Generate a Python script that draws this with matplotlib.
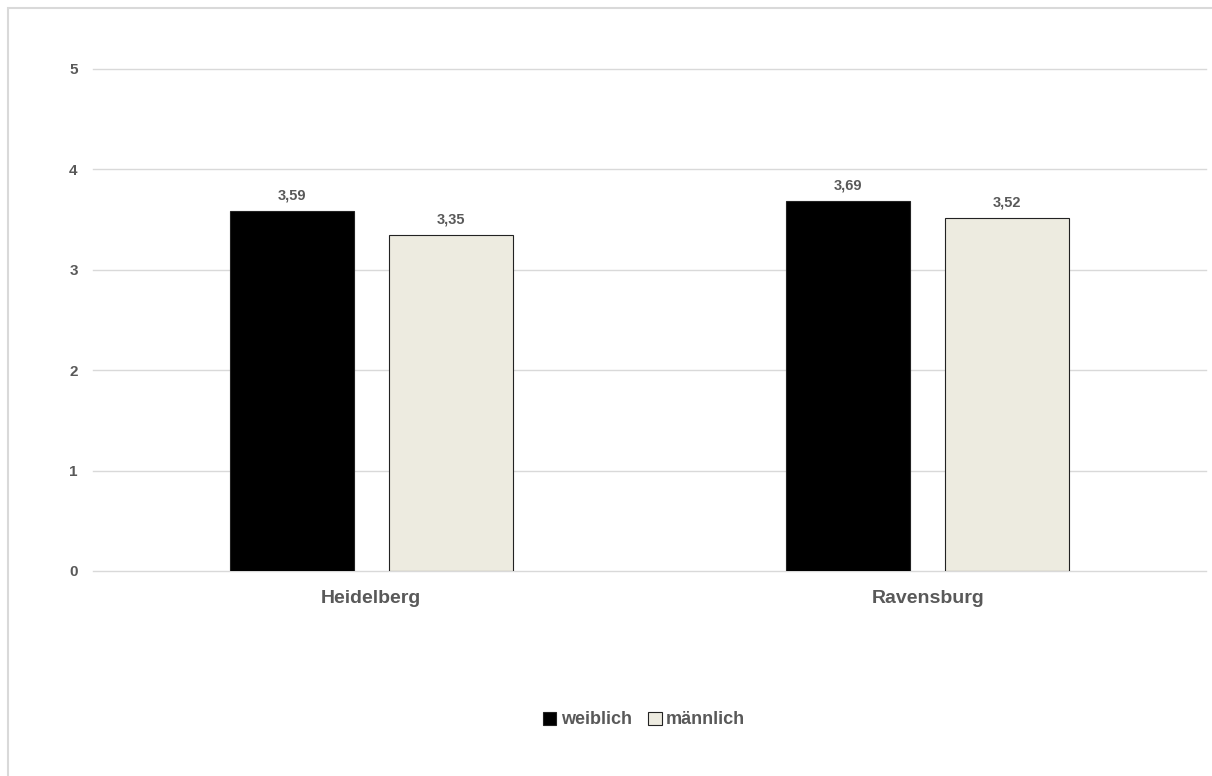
import numpy as np
import matplotlib
matplotlib.use("Agg")
import matplotlib.pyplot as plt
from matplotlib.patches import Rectangle

plt.rcParams['font.family'] = ['Liberation Sans', 'DejaVu Sans']

# data
cities = ['Heidelberg', 'Ravensburg']
weiblich = [3.59, 3.69]
maennlich = [3.35, 3.52]
series_names = ['weiblich', 'männlich']
y_ticks = [0, 1, 2, 3, 4, 5]

TEXT = '#595959'
GRID = '#d9d9d9'
BEIGE = '#edebe0'

W, H = 1212, 776
fig = plt.figure(figsize=(W / 100, H / 100), dpi=100)

# chart frame (left + top edge visible, rest is cropped)
fig.patches.append(Rectangle((8 / W, -0.01), 1.1, (H - 8) / H + 0.01,
                             transform=fig.transFigure, fill=False,
                             edgecolor=GRID, linewidth=1.5))

ax = fig.add_axes([93 / W, (H - 571) / H, (1206 - 93) / W, (571 - 69) / H])

x = np.arange(len(cities))
bw = 0.223
off = 0.1425
b1 = ax.bar(x - off, weiblich, bw, color='black', edgecolor='#222222',
            linewidth=0.8, zorder=3)
b2 = ax.bar(x + off, maennlich, bw, color=BEIGE, edgecolor='#222222',
            linewidth=0.8, zorder=3)

for bars, vals in ((b1, weiblich), (b2, maennlich)):
    for rect, v in zip(bars, vals):
        ax.annotate(f"{v:.2f}".replace('.', ','),
                    (rect.get_x() + rect.get_width() / 2, v),
                    xytext=(0, 6), textcoords='offset points',
                    ha='center', va='bottom', fontsize=10.5,
                    fontweight='bold', color=TEXT)

ax.set_xlim(-0.5, 1.5)
ax.set_ylim(0, 5)
ax.set_yticks(y_ticks)
ax.set_yticklabels([str(t) for t in y_ticks])
ax.set_xticks(x)
ax.set_xticklabels(cities)
ax.yaxis.grid(True, color=GRID, linewidth=1.0, zorder=0)
for gl in ax.get_ygridlines():
    gl.set_clip_on(False)
ax.set_axisbelow(True)
for s in ax.spines.values():
    s.set_visible(False)
ax.tick_params(axis='both', length=0)
ax.tick_params(axis='y', pad=11, labelsize=11, labelcolor=TEXT)
ax.tick_params(axis='x', pad=14, labelsize=14, labelcolor=TEXT)
for lbl in ax.get_xticklabels() + ax.get_yticklabels():
    lbl.set_fontweight('bold')

handles = [Rectangle((0, 0), 1, 1, facecolor='black', edgecolor='#222222', linewidth=0.8),
           Rectangle((0, 0), 1, 1, facecolor=BEIGE, edgecolor='#222222', linewidth=0.8)]
leg = fig.legend(handles, series_names, loc='center', bbox_to_anchor=(644 / W, 1 - 720 / H),
                 ncol=2, frameon=False, handlelength=0.75, handleheight=0.75,
                 handletextpad=0.25, columnspacing=0.9,
                 prop={'size': 13, 'weight': 'bold'})
for t in leg.get_texts():
    t.set_color(TEXT)

fig.savefig('out.png', dpi=100)
